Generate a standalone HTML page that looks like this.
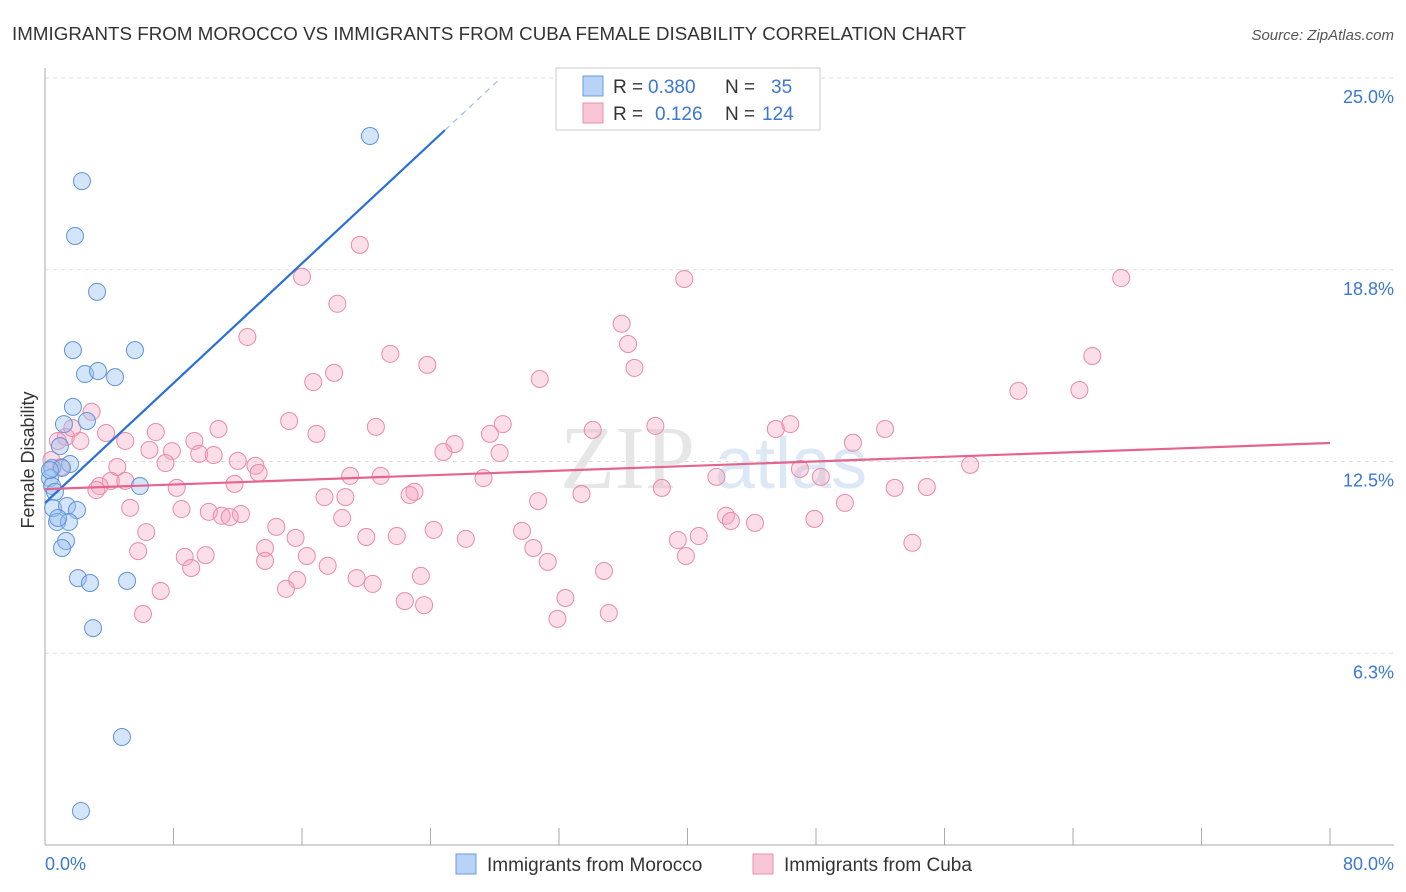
<!DOCTYPE html>
<html><head><meta charset="utf-8"><style>
body{margin:0;background:#fff;font-family:"Liberation Sans",sans-serif;}
svg{display:block}
</style></head><body>
<svg id="chart" width="1406" height="892" xmlns="http://www.w3.org/2000/svg">
<text x="12" y="40" font-size="18.7" fill="#333" textLength="954">IMMIGRANTS FROM MOROCCO VS IMMIGRANTS FROM CUBA FEMALE DISABILITY CORRELATION CHART</text>
<text x="1394" y="40" font-size="15" fill="#555" font-style="italic" text-anchor="end">Source: ZipAtlas.com</text>
<text x="560" y="488" font-size="90" fill="#e6e6e6" font-family="Liberation Serif,serif">ZIP</text>
<text x="715" y="488" font-size="72" fill="#dce8f5">atlas</text>
<g id="grid"></g>
<g id="axes"></g>
<g id="pink"></g>
<g id="blue"></g>
<g id="trends"></g>
<text x="34" y="460" font-size="18" fill="#333" text-anchor="middle" transform="rotate(-90 34 460)">Female Disability</text>
<text x="45" y="870" font-size="18" fill="#3a78d4">0.0%</text>
<text x="1394" y="870" font-size="18" fill="#3a78d4" text-anchor="end">80.0%</text>
<g font-size="19">
<rect x="556" y="68" width="264" height="62" fill="#fff" stroke="#ccc"/>
<rect x="583" y="76" width="20" height="20" fill="#b8d3f5" stroke="#6a9be0"/>
<rect x="583" y="103" width="20" height="20" fill="#f8c6d6" stroke="#e890ae"/>
<text x="613" y="93" fill="#333">R =</text>
<text x="648" y="93" fill="#3a78d4">0.380</text>
<text x="725" y="93" fill="#333">N =</text>
<text x="771" y="93" fill="#3a78d4">35</text>
<text x="613" y="120" fill="#333">R =</text>
<text x="655" y="120" fill="#3a78d4">0.126</text>
<text x="725" y="120" fill="#333">N =</text>
<text x="762" y="120" fill="#3a78d4">124</text>
</g>
<g>
<rect x="456" y="854" width="20" height="20" fill="#b8d3f5" stroke="#6a9be0"/>
<text x="487" y="871" font-size="19" fill="#333">Immigrants from Morocco</text>
<rect x="753" y="854" width="20" height="20" fill="#f8c6d6" stroke="#e890ae"/>
<text x="784" y="871" font-size="19" fill="#333">Immigrants from Cuba</text>
</g>
</svg>
<script>
const yTicks=[25,18.75,12.5,6.25];
const yTickLabels=["25.0%","18.8%","12.5%","6.3%"];
const xTicks=[0,8,16,24,32,40,48,56,64,72,80];
const blueX=[20.23,2.30,1.87,3.24,1.74,5.60,2.49,3.30,4.36,1.74,2.61,1.18,0.93,1.56,0.44,1.06,0.31,0.44,5.91,0.62,0.50,1.37,1.99,0.75,1.49,1.31,1.06,2.05,2.80,5.11,2.99,4.79,2.24,0.31,0.81];
const blueY=[23.11,21.64,19.85,18.03,16.13,16.13,15.35,15.45,15.25,14.28,13.82,13.72,13.00,12.42,12.29,12.29,11.96,11.70,11.70,11.51,10.98,11.05,10.92,10.53,10.53,9.91,9.68,8.70,8.54,8.61,7.07,3.52,1.11,12.22,10.66];
const pinkX=[19.6,16.0,39.8,67.0,18.2,35.9,36.3,12.6,65.2,21.5,23.8,36.7,18.0,16.7,30.8,60.6,64.4,2.9,15.2,28.5,46.4,20.6,10.8,27.7,16.9,38.0,45.5,52.3,34.1,3.8,6.9,5.0,9.3,50.3,25.5,1.3,0.8,2.2,1.7,6.5,7.9,9.6,10.5,24.8,28.3,0.4,7.5,12.0,13.1,4.5,1.0,57.6,13.3,47.0,19.0,20.9,27.3,41.8,48.3,4.1,5.0,3.4,11.8,3.2,8.2,52.9,54.9,38.4,33.4,23.0,22.7,17.4,18.7,30.7,49.8,5.3,8.5,10.2,11.0,12.2,11.5,18.5,42.4,42.7,44.2,47.9,14.4,24.2,29.7,6.3,15.6,20.0,21.9,26.2,39.4,40.7,54.0,13.7,5.8,8.7,10.0,16.3,30.4,39.9,31.3,9.1,17.6,13.7,34.8,23.4,15.7,19.4,20.4,15.0,7.2,32.4,22.4,23.6,35.1,6.1,31.9];
const pinkY=[19.56,18.52,18.45,18.48,17.64,16.99,16.33,16.56,15.94,16.01,15.65,15.55,15.39,15.09,15.19,14.80,14.83,14.12,13.82,13.72,13.72,13.63,13.56,13.40,13.40,13.66,13.56,13.56,13.53,13.43,13.46,13.17,13.17,13.11,13.07,13.30,13.17,13.17,13.59,12.88,12.84,12.75,12.71,12.81,12.78,12.55,12.45,12.52,12.36,12.32,12.32,12.39,12.13,12.26,12.03,12.03,11.96,12.00,12.00,11.87,11.87,11.70,11.77,11.57,11.64,11.64,11.67,11.64,11.44,11.51,11.41,11.34,11.34,11.21,11.15,10.99,10.95,10.86,10.73,10.79,10.69,10.66,10.73,10.56,10.50,10.63,10.37,10.27,10.24,10.20,10.01,10.04,10.07,9.98,9.94,10.07,9.85,9.68,9.58,9.39,9.45,9.42,9.68,9.42,9.23,9.03,9.10,9.26,8.93,8.77,8.64,8.70,8.51,8.35,8.28,8.05,7.95,7.82,7.56,7.53,7.37];
const blueTrend=[11.15,0.488];
const pinkTrend=[11.6,0.0188];
const NS='http://www.w3.org/2000/svg';
const xs=v=>45+v*(1285/80);
const ys=v=>845-v*(767/25);
function mk(tag,attrs,parent){const e=document.createElementNS(NS,tag);for(const k in attrs)e.setAttribute(k,attrs[k]);document.getElementById(parent).appendChild(e);return e;}
yTicks.forEach((t,i)=>{
 const g=mk('line',{x1:45,x2:1394,y1:ys(t),y2:ys(t),stroke:'#ddd','stroke-dasharray':'4,4'},'grid');
 
 
 const l=mk('text',{x:1394,y:ys(t)+25,'font-size':18,fill:'#3a78d4','text-anchor':'end'},'grid');
 l.textContent=yTickLabels[i];
 
 
});
const ax=mk('line',{x1:45,x2:45,y1:68,y2:845,stroke:'#aaa'},'axes');


const bx=mk('line',{x1:45,x2:1394,y1:845,y2:845,stroke:'#aaa'},'axes');


xTicks.forEach(t=>{
 const e=mk('line',{x1:xs(t),x2:xs(t),y1:828,y2:845,stroke:'#aaa'},'axes');
 
 
});
pinkX.forEach((v,i)=>{
 const c=mk('circle',{cx:xs(v),cy:ys(pinkY[i]),r:8.5,fill:'rgba(244,160,188,0.35)',stroke:'#e98aab','stroke-width':1},'pink');
 
 
});
blueX.forEach((v,i)=>{
 const c=mk('circle',{cx:xs(v),cy:ys(blueY[i]),r:8.5,fill:'rgba(150,190,240,0.4)',stroke:'#5f93db','stroke-width':1},'blue');
 
 
});
const bEnd=24.9, bDash=(25-blueTrend[0])/blueTrend[1];
const t1=mk('line',{x1:xs(0),y1:ys(blueTrend[0]),x2:xs(bEnd),y2:ys(blueTrend[0]+blueTrend[1]*bEnd),stroke:'#2a6fd6','stroke-width':2.2},'trends');


const t2=mk('line',{x1:xs(bEnd),y1:ys(blueTrend[0]+blueTrend[1]*bEnd),x2:xs(bDash),y2:ys(25),stroke:'#9dbde8','stroke-width':1.2,'stroke-dasharray':'6,5'},'trends');


const t3=mk('line',{x1:xs(0),y1:ys(pinkTrend[0]),x2:xs(80),y2:ys(pinkTrend[0]+pinkTrend[1]*80),stroke:'#e5648f','stroke-width':2.2},'trends');


</script>
</body></html>
